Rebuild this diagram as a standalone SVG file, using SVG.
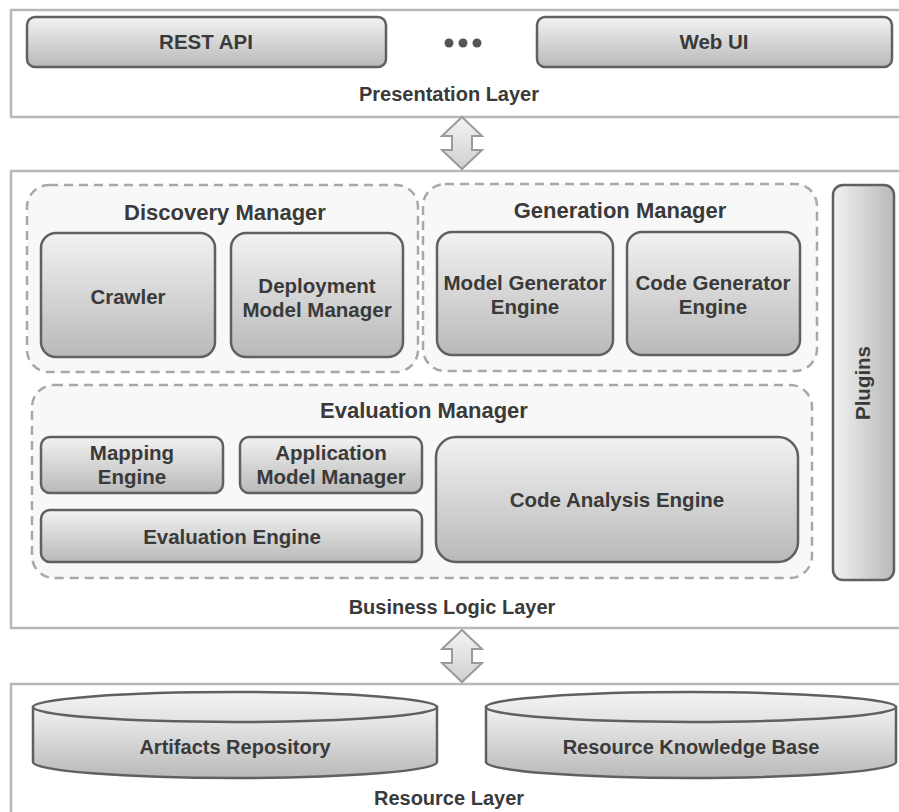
<svg xmlns="http://www.w3.org/2000/svg" width="899" height="812" viewBox="0 0 899 812">
<defs>
<linearGradient id="gv" x1="0" y1="0" x2="0" y2="1">
<stop offset="0" stop-color="#f2f2f2"/>
<stop offset="1" stop-color="#b9b9b9"/>
</linearGradient>
<linearGradient id="gh" x1="0" y1="0" x2="1" y2="0">
<stop offset="0" stop-color="#f2f2f2"/>
<stop offset="1" stop-color="#b9b9b9"/>
</linearGradient>
<linearGradient id="gtop" x1="0" y1="0" x2="0" y2="1">
<stop offset="0" stop-color="#f4f4f4"/>
<stop offset="1" stop-color="#e2e2e2"/>
</linearGradient>
<linearGradient id="garrow" x1="0" y1="0" x2="0" y2="1">
<stop offset="0" stop-color="#f4f4f4"/>
<stop offset="1" stop-color="#cfcfcf"/>
</linearGradient>
</defs>
<style>
.layer{fill:#ffffff;stroke:#b8b8b8;stroke-width:2.5}
.group{fill:#f8f8f8;stroke:#a8a8a8;stroke-width:2.5;stroke-dasharray:9 6}
.box{fill:url(#gv);stroke:#606060;stroke-width:2.5}
.cyl{fill:url(#gv);stroke:#606060;stroke-width:2.5}
.cyltop{fill:url(#gtop);stroke:#606060;stroke-width:2.5}
.arrow{fill:url(#garrow);stroke:#9a9a9a;stroke-width:2;stroke-linejoin:miter}
text{font-family:"Liberation Sans",Arial,Helvetica,sans-serif;font-weight:bold;fill:#3a3a3a;text-anchor:middle}
.t{font-size:20px}
.n{font-size:20.5px}
.tt{font-size:22px}
</style>

<g id="presentation-layer">
<rect class="layer" x="11" y="10" width="900" height="107"/>
<text class="t" x="449" y="101">Presentation Layer</text>
</g>
<g id="rest-api">
<rect class="box" x="27" y="17" width="359" height="50" rx="8"/>
<text class="n" x="206" y="49">REST API</text>
</g>
<g id="ellipsis">
<circle cx="449" cy="43" r="4.5" fill="#555"/>
<circle cx="463" cy="43" r="4.5" fill="#555"/>
<circle cx="477" cy="43" r="4.5" fill="#555"/>
</g>
<g id="web-ui">
<rect class="box" x="537" y="17" width="355" height="50" rx="8"/>
<text class="n" x="714" y="49">Web UI</text>
</g>

<g id="business-layer">
<rect class="layer" x="11" y="171" width="900" height="457"/>
<text class="t" x="452" y="614">Business Logic Layer</text>
</g>

<g id="discovery-manager">
<rect class="group" x="27" y="185" width="391" height="187" rx="22"/>
<text class="tt" x="225" y="220">Discovery Manager</text>
</g>
<g id="crawler">
<rect class="box" x="41" y="233" width="174" height="124" rx="15"/>
<text class="n" x="128" y="304">Crawler</text>
</g>
<g id="deployment-model-manager">
<rect class="box" x="231" y="233" width="172" height="124" rx="15"/>
<text class="n" x="317" y="293">Deployment</text>
<text class="n" x="317" y="317">Model Manager</text>
</g>

<g id="generation-manager">
<rect class="group" x="423" y="184" width="394" height="187" rx="22"/>
<text class="tt" x="620" y="218">Generation Manager</text>
</g>
<g id="model-generator-engine">
<rect class="box" x="437" y="232" width="176" height="123" rx="15"/>
<text class="n" x="525" y="290">Model Generator</text>
<text class="n" x="525" y="314">Engine</text>
</g>
<g id="code-generator-engine">
<rect class="box" x="627" y="232" width="173" height="123" rx="15"/>
<text class="n" x="713" y="290">Code Generator</text>
<text class="n" x="713" y="314">Engine</text>
</g>

<g id="plugins">
<rect x="833" y="185" width="61" height="395" rx="10" fill="url(#gh)" stroke="#606060" stroke-width="2.5"/>
<text class="n" transform="translate(870,383) rotate(-90)" x="0" y="0">Plugins</text>
</g>

<g id="evaluation-manager">
<rect class="group" x="32" y="385" width="780" height="193" rx="22"/>
<text class="tt" x="424" y="418">Evaluation Manager</text>
</g>
<g id="mapping-engine">
<rect class="box" x="41" y="437" width="182" height="56" rx="9"/>
<text class="n" x="132" y="460">Mapping</text>
<text class="n" x="132" y="484">Engine</text>
</g>
<g id="application-model-manager">
<rect class="box" x="240" y="437" width="182" height="56" rx="9"/>
<text class="n" x="331" y="460">Application</text>
<text class="n" x="331" y="484">Model Manager</text>
</g>
<g id="evaluation-engine">
<rect class="box" x="41" y="510" width="381" height="52" rx="9"/>
<text class="n" x="232" y="544">Evaluation Engine</text>
</g>
<g id="code-analysis-engine">
<rect class="box" x="436" y="437" width="362" height="125" rx="20"/>
<text class="n" x="617" y="507">Code Analysis Engine</text>
</g>

<g id="resource-layer">
<rect class="layer" x="11" y="684" width="900" height="140"/>
<text class="t" x="449" y="805">Resource Layer</text>
</g>
<g id="artifacts-repository">
<path class="cyl" d="M33,707 L33,762 A202,16 0 0 0 437,762 L437,707 Z"/>
<ellipse class="cyltop" cx="235" cy="707" rx="202" ry="15"/>
<text class="t" x="235" y="754">Artifacts Repository</text>
</g>
<g id="resource-knowledge-base">
<path class="cyl" d="M486,707 L486,762 A205,16 0 0 0 896,762 L896,707 Z"/>
<ellipse class="cyltop" cx="691" cy="707" rx="205" ry="15"/>
<text class="t" x="691" y="754">Resource Knowledge Base</text>
</g>

<g id="connectors">
<path class="arrow" d="M462,117 L482,136 L472,136 L472,150 L482,150 L462,169 L442,150 L452,150 L452,136 L442,136 Z"/>
<path class="arrow" d="M462,630 L482,649 L472,649 L472,663 L482,663 L462,682 L442,663 L452,663 L452,649 L442,649 Z"/>
</g>
</svg>
